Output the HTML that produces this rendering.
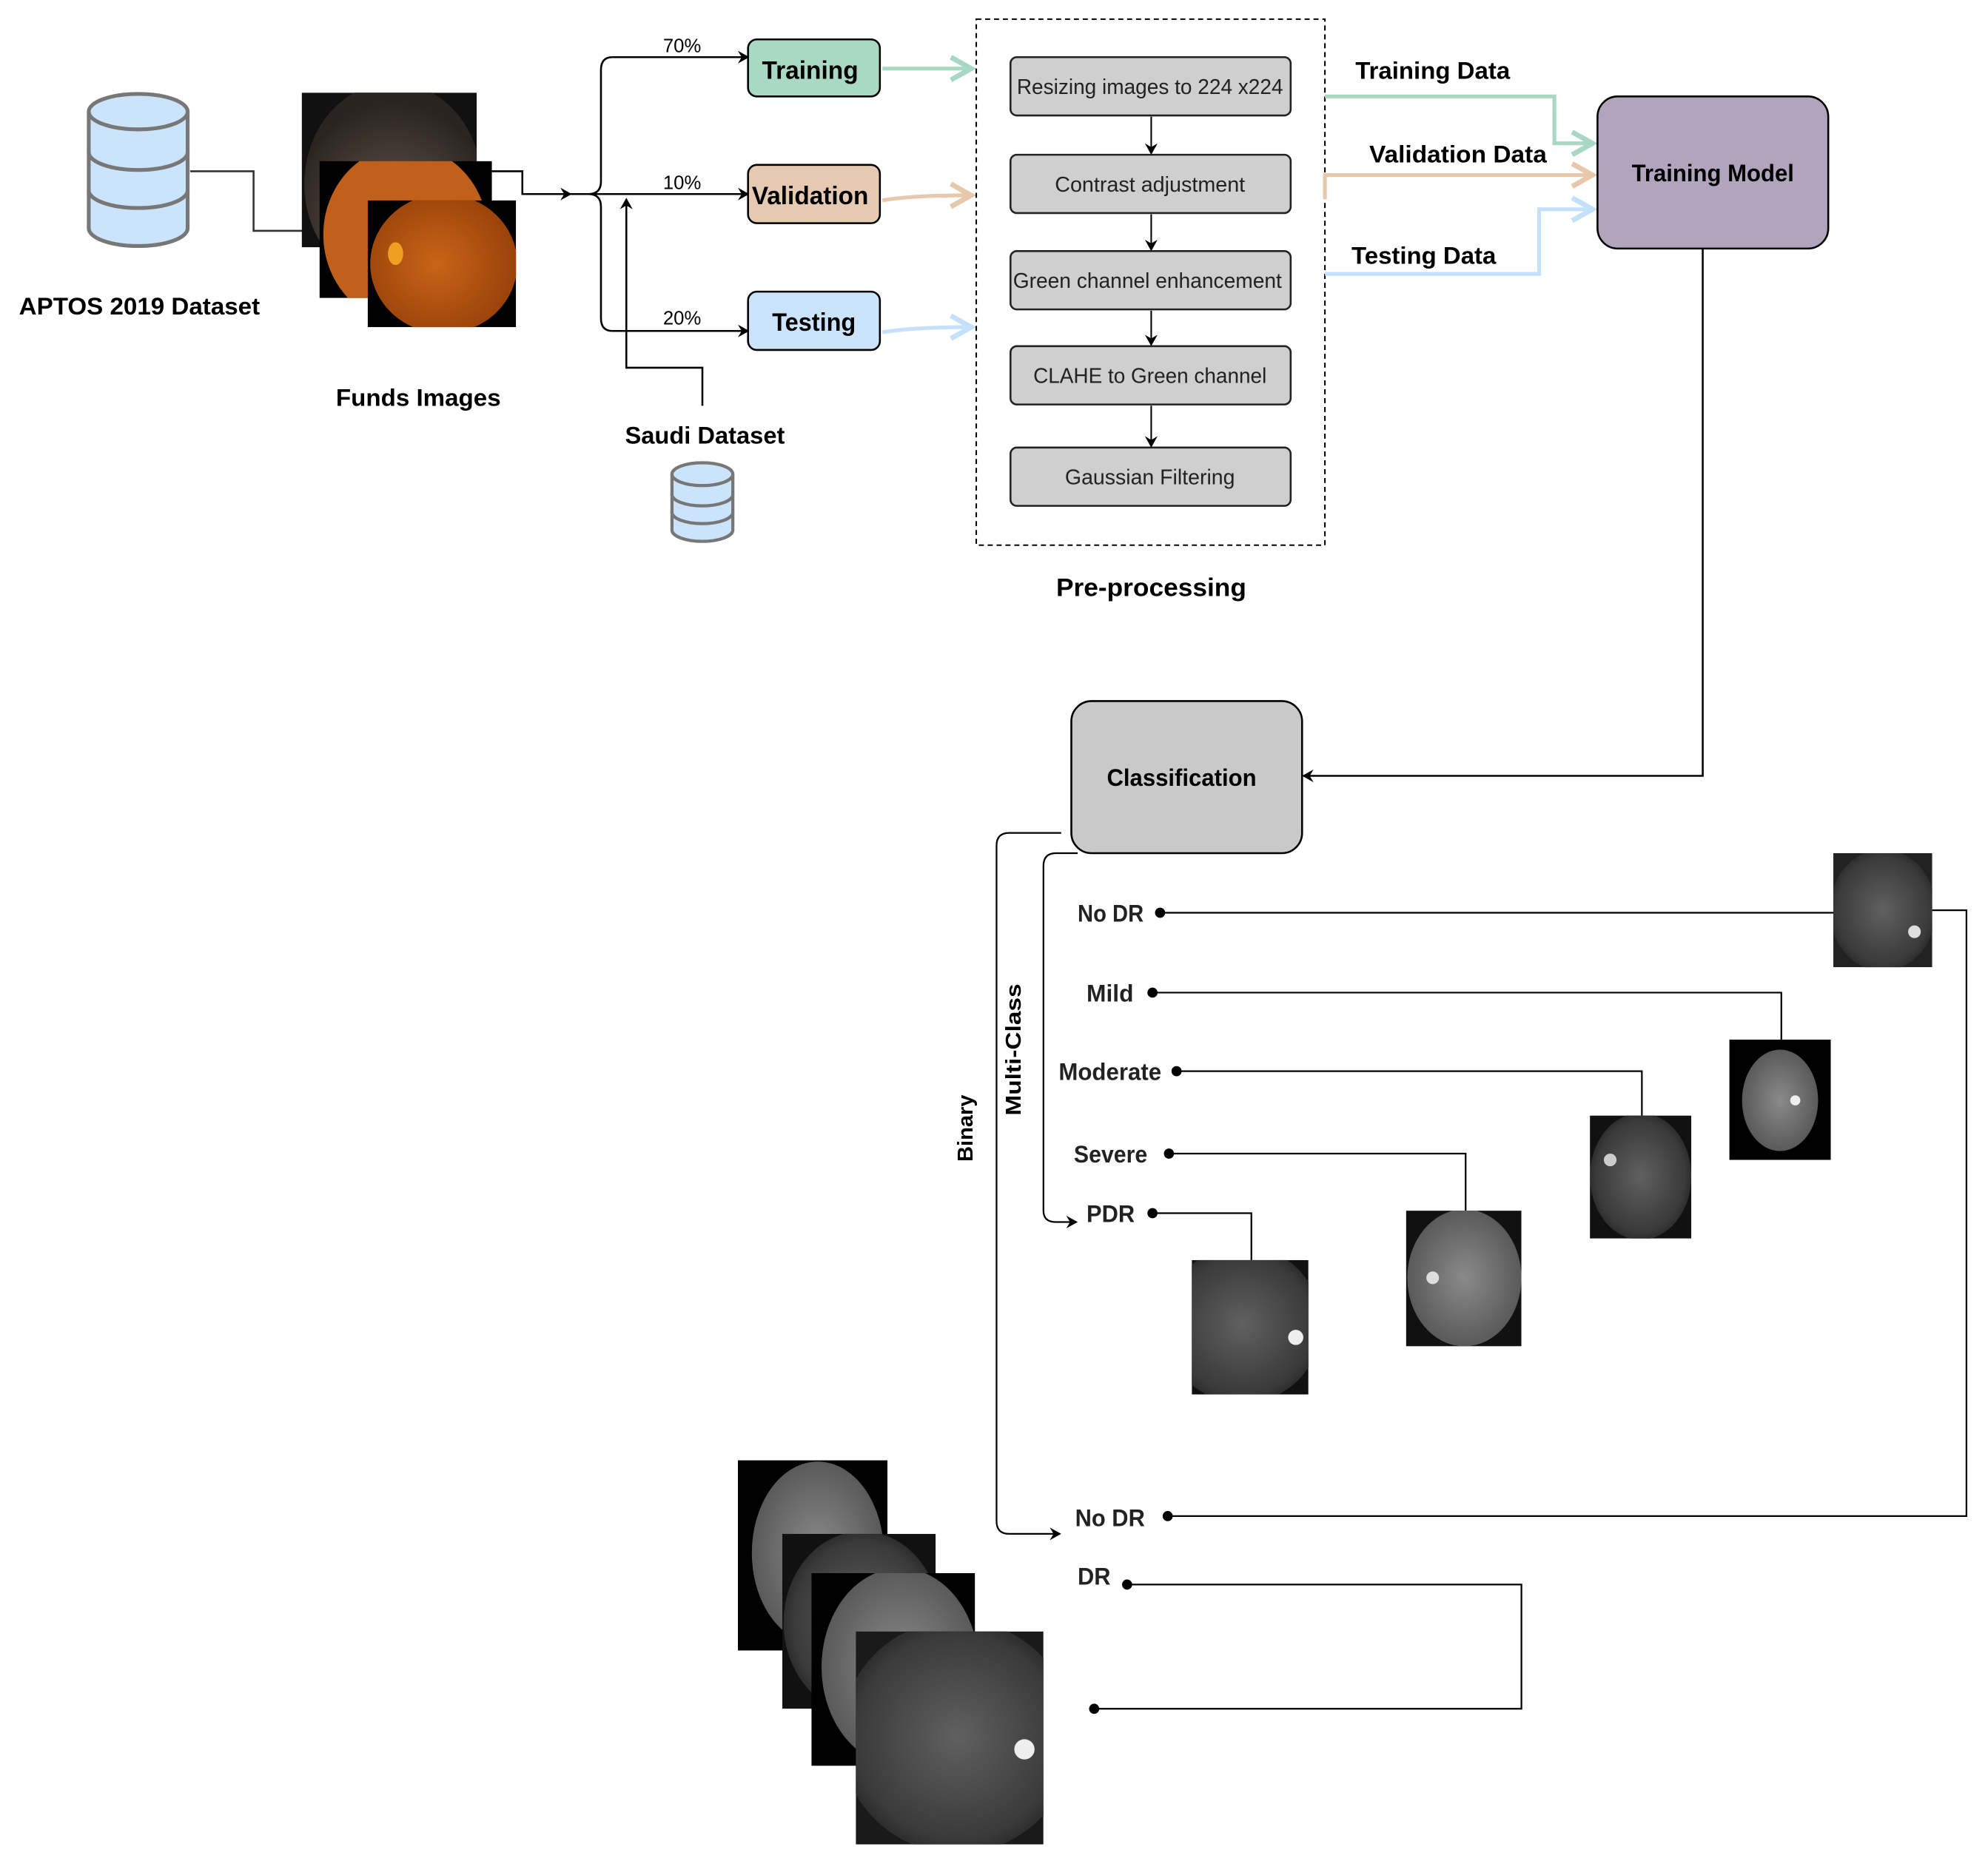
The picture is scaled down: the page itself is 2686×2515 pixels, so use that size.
<!DOCTYPE html>
<html><head><meta charset="utf-8"><style>
html,body{margin:0;padding:0;background:#fff;}
svg{display:block;}
text{font-family:"Liberation Sans",sans-serif;}
</style></head><body>
<svg width="2686" height="2515" viewBox="0 0 1568 1468" xmlns="http://www.w3.org/2000/svg">
<defs>
<marker id="ab" markerWidth="10" markerHeight="10" refX="8" refY="5" orient="auto" markerUnits="userSpaceOnUse"><path d="M0,0 L9,5 L0,10 L3,5 z" fill="#000"/></marker>
<marker id="ag" markerWidth="22" markerHeight="22" refX="18" refY="11" orient="auto" markerUnits="userSpaceOnUse"><path d="M2,2 L18,11 L2,20" fill="none" stroke="#a8d8c4" stroke-width="4"/></marker>
<marker id="ao" markerWidth="22" markerHeight="22" refX="18" refY="11" orient="auto" markerUnits="userSpaceOnUse"><path d="M2,2 L18,11 L2,20" fill="none" stroke="#e8c8ac" stroke-width="4"/></marker>
<marker id="al" markerWidth="22" markerHeight="22" refX="18" refY="11" orient="auto" markerUnits="userSpaceOnUse"><path d="M2,2 L18,11 L2,20" fill="none" stroke="#c4e0fa" stroke-width="4"/></marker>
<radialGradient id="or" cx="0.45" cy="0.5" r="0.55"><stop offset="0" stop-color="#c86418"/><stop offset="1" stop-color="#9a420a"/></radialGradient>
<radialGradient id="br" cx="0.5" cy="0.7" r="0.6"><stop offset="0" stop-color="#6a5a50"/><stop offset="1" stop-color="#2a2420"/></radialGradient>
<radialGradient id="gr" cx="0.5" cy="0.5" r="0.55"><stop offset="0" stop-color="#606060"/><stop offset="0.8" stop-color="#3a3a3a"/><stop offset="1" stop-color="#222"/></radialGradient>
<radialGradient id="gl" cx="0.5" cy="0.5" r="0.55"><stop offset="0" stop-color="#8a8a8a"/><stop offset="1" stop-color="#555"/></radialGradient>
</defs>

<!-- APTOS db -->
<g stroke="#777" stroke-width="3" fill="#cce4fb">
<path d="M70,88 v92 a39,14 0 0 0 78,0 v-92"/>
<ellipse cx="109" cy="88" rx="39" ry="14"/>
<path d="M70,120 a39,14 0 0 0 78,0 M70,150 a39,14 0 0 0 78,0" fill="none"/>
</g>
<text x="110" y="248" font-size="19" font-weight="bold" text-anchor="middle" textLength="190" lengthAdjust="spacingAndGlyphs">APTOS 2019 Dataset</text>
<path d="M150,135 H200 V182 H240" fill="none" stroke="#333" stroke-width="1.5"/>

<!-- funds images -->
<svg x="238" y="73" width="138" height="122"><rect width="138" height="122" fill="#111"/><ellipse cx="72" cy="72" rx="70" ry="80" fill="url(#br)"/></svg>
<svg x="252" y="127" width="136" height="108"><rect width="136" height="108" fill="#000"/><ellipse cx="68" cy="58" rx="65" ry="70" fill="#c0601a"/></svg>
<svg x="290" y="158" width="117" height="100"><rect width="117" height="100" fill="#000"/><ellipse cx="60" cy="50" rx="58" ry="55" fill="url(#or)"/><ellipse cx="22" cy="42" rx="6" ry="9" fill="#f0a020"/></svg>
<path d="M388,135 H412 V153 H450" fill="none" stroke="#000" stroke-width="1.5" marker-end="url(#ab)"/>
<text x="330" y="320" font-size="19" font-weight="bold" text-anchor="middle" textLength="130" lengthAdjust="spacingAndGlyphs">Funds Images</text>

<!-- branches -->
<g fill="none" stroke="#000" stroke-width="1.5">
<path d="M450,153 H590" marker-end="url(#ab)"/>
<path d="M483,45 Q474,45 474,55 V143 Q474,153 464,153 Q474,153 474,163 V251 Q474,261 483,261"/>
<path d="M483,45 H590" marker-end="url(#ab)"/>
<path d="M483,261 H590" marker-end="url(#ab)"/>
<path d="M554,320 V290 H494 V157" marker-end="url(#ab)"/>
</g>
<text x="538" y="41" font-size="15" text-anchor="middle">70%</text>
<text x="538" y="149" font-size="15" text-anchor="middle">10%</text>
<text x="538" y="256" font-size="15" text-anchor="middle">20%</text>

<rect x="590" y="31" width="104" height="45" rx="7" fill="#a9d8c3" stroke="#000" stroke-width="1.5"/>
<text x="639" y="62" font-size="20" font-weight="bold" text-anchor="middle" textLength="76" lengthAdjust="spacingAndGlyphs">Training</text>
<rect x="590" y="130" width="104" height="46" rx="7" fill="#e6c9b1" stroke="#000" stroke-width="1.5"/>
<text x="639" y="161" font-size="20" font-weight="bold" text-anchor="middle" textLength="92" lengthAdjust="spacingAndGlyphs">Validation</text>
<rect x="590" y="230" width="104" height="46" rx="7" fill="#cce4fb" stroke="#000" stroke-width="1.5"/>
<text x="642" y="261" font-size="20" font-weight="bold" text-anchor="middle" textLength="66" lengthAdjust="spacingAndGlyphs">Testing</text>

<path d="M696,54 H766" stroke="#a8d8c4" stroke-width="3" fill="none" marker-end="url(#ag)"/>
<path d="M696,158 Q720,154 766,154" stroke="#e8c8ac" stroke-width="3" fill="none" marker-end="url(#ao)"/>
<path d="M696,262 Q720,258 766,258" stroke="#c4e0fa" stroke-width="3" fill="none" marker-end="url(#al)"/>

<text x="556" y="350" font-size="19" font-weight="bold" text-anchor="middle" textLength="126" lengthAdjust="spacingAndGlyphs">Saudi Dataset</text>
<g stroke="#777" stroke-width="2.5" fill="#cce4fb">
<path d="M530,374 v44 a24,9 0 0 0 48,0 v-44"/>
<ellipse cx="554" cy="374" rx="24" ry="9"/>
<path d="M530,390 a24,9 0 0 0 48,0 M530,404 a24,9 0 0 0 48,0" fill="none"/>
</g>

<!-- preprocessing -->
<rect x="770" y="15" width="275" height="415" fill="none" stroke="#000" stroke-width="1.2" stroke-dasharray="4,3"/>
<g fill="#cfcfcf" stroke="#222" stroke-width="1.5">
<rect x="797" y="45" width="221" height="46" rx="5"/>
<rect x="797" y="122" width="221" height="46" rx="5"/>
<rect x="797" y="198" width="221" height="46" rx="5"/>
<rect x="797" y="273" width="221" height="46" rx="5"/>
<rect x="797" y="353" width="221" height="46" rx="5"/>
</g>
<g font-size="17" text-anchor="middle" fill="#222" lengthAdjust="spacingAndGlyphs">
<text x="907" y="74" textLength="210" lengthAdjust="spacingAndGlyphs">Resizing images to 224 x224</text>
<text x="907" y="151" textLength="150" lengthAdjust="spacingAndGlyphs">Contrast adjustment</text>
<text x="905" y="227" textLength="212" lengthAdjust="spacingAndGlyphs">Green channel enhancement</text>
<text x="907" y="302" textLength="184" lengthAdjust="spacingAndGlyphs">CLAHE to Green channel</text>
<text x="907" y="382" textLength="134" lengthAdjust="spacingAndGlyphs">Gaussian Filtering</text>
</g>
<g stroke="#000" stroke-width="1.2" marker-end="url(#ab)">
<path d="M908,92 V121"/><path d="M908,169 V197"/><path d="M908,245 V272"/><path d="M908,320 V352"/>
</g>
<text x="908" y="470" font-size="20" font-weight="bold" text-anchor="middle" textLength="150" lengthAdjust="spacingAndGlyphs">Pre-processing</text>

<!-- to training model -->
<path d="M1045,76 H1226 V113 H1256" stroke="#a8d8c4" stroke-width="3" fill="none" marker-end="url(#ag)"/>
<path d="M1045,157 V138 H1256" stroke="#e8c8ac" stroke-width="3" fill="none" marker-end="url(#ao)"/>
<path d="M1045,216 H1214 V165 H1256" stroke="#c4e0fa" stroke-width="3" fill="none" marker-end="url(#al)"/>
<text x="1130" y="62" font-size="19" font-weight="bold" text-anchor="middle" textLength="122" lengthAdjust="spacingAndGlyphs">Training Data</text>
<text x="1150" y="128" font-size="19" font-weight="bold" text-anchor="middle" textLength="140" lengthAdjust="spacingAndGlyphs">Validation Data</text>
<text x="1123" y="208" font-size="19" font-weight="bold" text-anchor="middle" textLength="114" lengthAdjust="spacingAndGlyphs">Testing Data</text>
<rect x="1260" y="76" width="182" height="120" rx="16" fill="#b3a4bd" stroke="#000" stroke-width="1.5"/>
<text x="1351" y="143" font-size="19" font-weight="bold" text-anchor="middle" textLength="128" lengthAdjust="spacingAndGlyphs">Training Model</text>
<path d="M1343,196 V612 H1028" fill="none" stroke="#000" stroke-width="1.5" marker-end="url(#ab)"/>

<rect x="845" y="553" width="182" height="120" rx="16" fill="#c9c9c9" stroke="#000" stroke-width="1.5"/>
<text x="932" y="620" font-size="19" font-weight="bold" text-anchor="middle" textLength="118" lengthAdjust="spacingAndGlyphs">Classification</text>

<!-- binary / multiclass -->
<g fill="none" stroke="#000" stroke-width="1.3">
<path d="M837,657 H796 Q786,657 786,667 V1200 Q786,1210 796,1210 H836" marker-end="url(#ab)"/>
<path d="M850,673 H833 Q823,673 823,683 V955 Q823,964 833,964 H849" marker-end="url(#ab)"/>
</g>
<text transform="translate(767,890) rotate(-90)" font-size="17" font-weight="bold" text-anchor="middle">Binary</text>
<text transform="translate(805,828) rotate(-90)" font-size="17" font-weight="bold" text-anchor="middle" textLength="104" lengthAdjust="spacingAndGlyphs">Multi-Class</text>

<g font-size="19" font-weight="bold" fill="#222">
<text x="850" y="727" textLength="52" lengthAdjust="spacingAndGlyphs">No DR</text>
<text x="857" y="790" textLength="37" lengthAdjust="spacingAndGlyphs">Mild</text>
<text x="835" y="852" textLength="81" lengthAdjust="spacingAndGlyphs">Moderate</text>
<text x="847" y="917" textLength="58" lengthAdjust="spacingAndGlyphs">Severe</text>
<text x="857" y="964" textLength="38" lengthAdjust="spacingAndGlyphs">PDR</text>
<text x="848" y="1204" textLength="55" lengthAdjust="spacingAndGlyphs">No DR</text>
<text x="850" y="1250" textLength="26" lengthAdjust="spacingAndGlyphs">DR</text>
</g>
<g fill="#000">
<circle cx="915" cy="720" r="4"/><circle cx="909" cy="783" r="4"/><circle cx="928" cy="845" r="4"/>
<circle cx="922" cy="910" r="4"/><circle cx="909" cy="957" r="4"/><circle cx="921" cy="1196" r="4"/>
<circle cx="889" cy="1250" r="4"/><circle cx="863" cy="1348" r="4"/>
</g>
<g fill="none" stroke="#000" stroke-width="1.3">
<path d="M915,720 H1446"/>
<path d="M1524,718 H1551 V1196 H921"/>
<path d="M909,783 H1405 V820"/>
<path d="M928,845 H1295 V880"/>
<path d="M922,910 H1156 V955"/>
<path d="M909,957 H987 V994"/>
<path d="M889,1250 H1200 V1348 H863"/>
</g>

<!-- grayscale images -->
<svg x="1446" y="673" width="78" height="90"><rect width="78" height="90" fill="#222"/><ellipse cx="39" cy="45" rx="42" ry="48" fill="url(#gr)"/><circle cx="64" cy="62" r="5" fill="#ddd"/></svg>
<svg x="1364" y="820" width="80" height="95"><rect width="80" height="95" fill="#000"/><ellipse cx="40" cy="48" rx="30" ry="40" fill="url(#gl)"/><circle cx="52" cy="48" r="4" fill="#eee"/></svg>
<svg x="1254" y="880" width="80" height="97"><rect width="80" height="97" fill="#111"/><ellipse cx="40" cy="48" rx="40" ry="50" fill="url(#gr)"/><circle cx="16" cy="35" r="5" fill="#ccc"/></svg>
<svg x="1109" y="955" width="91" height="107"><rect width="91" height="107" fill="#111"/><ellipse cx="46" cy="53" rx="45" ry="54" fill="url(#gl)"/><circle cx="21" cy="53" r="5" fill="#ddd"/></svg>
<svg x="940" y="994" width="92" height="106"><rect width="92" height="106" fill="#111"/><ellipse cx="40" cy="51" rx="62" ry="62" fill="url(#gr)"/><circle cx="82" cy="61" r="6" fill="#eee"/></svg>

<svg x="582" y="1152" width="118" height="150"><rect width="118" height="150" fill="#000"/><ellipse cx="63" cy="73" rx="52" ry="72" fill="url(#gl)"/></svg>
<svg x="617" y="1210" width="121" height="138"><rect width="121" height="138" fill="#111"/><ellipse cx="63" cy="70" rx="62" ry="72" fill="url(#gr)"/></svg>
<svg x="640" y="1241" width="129" height="152"><rect width="129" height="152" fill="#000"/><ellipse cx="70" cy="74" rx="62" ry="78" fill="url(#gl)"/></svg>
<svg x="675" y="1287" width="148" height="168"><rect width="148" height="168" fill="#1a1a1a"/><ellipse cx="80" cy="83" rx="92" ry="92" fill="url(#gr)"/><circle cx="133" cy="93" r="8" fill="#eee"/></svg>
</svg>
</body></html>
